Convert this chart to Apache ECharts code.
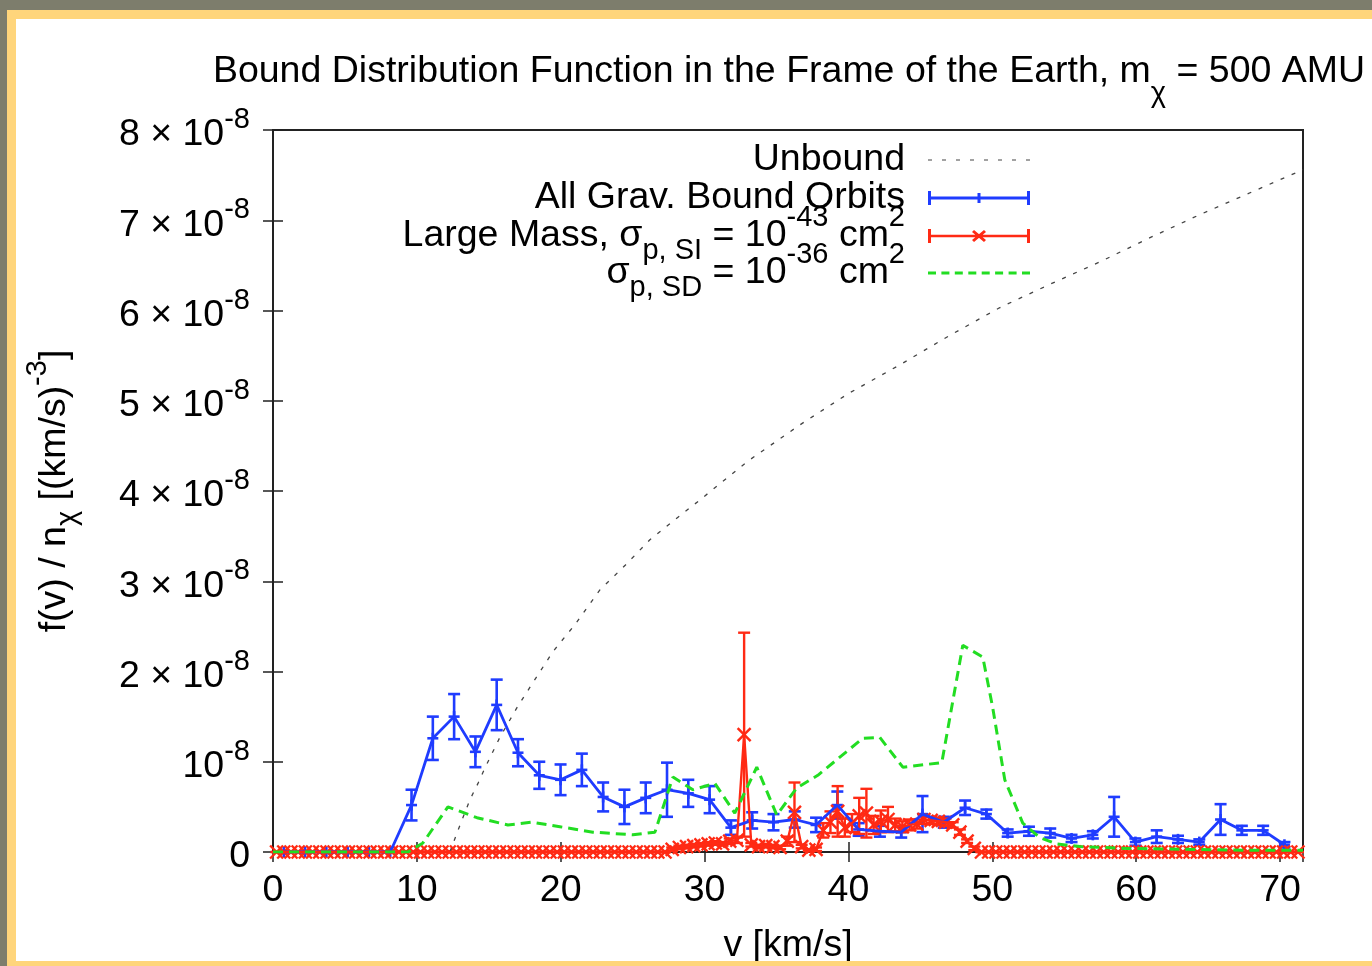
<!DOCTYPE html>
<html><head><meta charset="utf-8">
<script src="https://cdn.jsdelivr.net/npm/echarts@6/dist/echarts.min.js"></script>
<style>html,body{margin:0;padding:0;background:#fff}#c{width:1372px;height:966px}</style>
</head><body><div id="c"></div>
<script>
// All f(v)/n values are in units of 1e-8 (km/s)^-3
const FONT = 'Liberation Sans';

const unboundV = [12.3, 12.86, 13.69, 14.25, 14.73, 15.77, 16.96, 18.2, 19.46, 20.99, 22.7, 24.5, 26.2, 28, 29.67, 33, 36.6, 40, 43.6, 47, 50.5, 54, 57.5, 61, 64.4, 68, 71.6];
const unboundF = [0, 0.24, 0.58, 0.76, 0.93, 1.27, 1.6, 1.91, 2.22, 2.52, 2.9, 3.18, 3.46, 3.69, 3.9, 4.33, 4.73, 5.08, 5.4, 5.72, 6.03, 6.29, 6.54, 6.81, 7.06, 7.31, 7.56];

const boundV = [0.75, 2.23, 3.71, 5.19, 6.67, 8.15, 9.63, 11.11, 12.59, 14.07, 15.55, 17.03, 18.51, 19.99, 21.47, 22.95, 24.43, 25.91, 27.39, 28.87, 30.35, 31.83, 33.31, 34.79, 36.27, 37.75, 39.23, 40.71, 42.19, 43.67, 45.15, 46.63, 48.11, 49.59, 51.07, 52.55, 54.03, 55.51, 56.99, 58.47, 59.95, 61.43, 62.91, 64.39, 65.87, 67.35, 68.83, 70.31];
const boundF = [0, 0, 0, 0, 0, 0, 0.52, 1.26, 1.50, 1.11, 1.63, 1.10, 0.85, 0.80, 0.91, 0.61, 0.50, 0.60, 0.69, 0.65, 0.58, 0.27, 0.35, 0.33, 0.36, 0.30, 0.52, 0.25, 0.23, 0.22, 0.42, 0.33, 0.49, 0.42, 0.21, 0.23, 0.21, 0.15, 0.19, 0.39, 0.11, 0.17, 0.14, 0.11, 0.36, 0.24, 0.24, 0.08];
const boundErr = [0, 0, 0, 0, 0, 0, 0.17, 0.24, 0.25, 0.17, 0.28, 0.15, 0.15, 0.17, 0.18, 0.16, 0.19, 0.17, 0.30, 0.15, 0.15, 0.08, 0.09, 0.09, 0.09, 0.08, 0.15, 0.07, 0.06, 0.06, 0.20, 0.06, 0.08, 0.05, 0.04, 0.05, 0.05, 0.04, 0.04, 0.22, 0.04, 0.07, 0.04, 0.03, 0.17, 0.05, 0.05, 0.03];

const largeV = [0.25, 0.75, 1.25, 1.75, 2.25, 2.75, 3.25, 3.75, 4.25, 4.75,
  5.25, 5.75, 6.25, 6.75, 7.25, 7.75, 8.25, 8.75, 9.25, 9.75,
  10.25, 10.75, 11.25, 11.75, 12.25, 12.75, 13.25, 13.75, 14.25, 14.75,
  15.25, 15.75, 16.25, 16.75, 17.25, 17.75, 18.25, 18.75, 19.25, 19.75,
  20.25, 20.75, 21.25, 21.75, 22.25, 22.75, 23.25, 23.75, 24.25, 24.75,
  25.25, 25.75, 26.25, 26.75, 27.25, 27.75, 28.25, 28.75, 29.25, 29.75,
  30.25, 30.75, 31.25, 31.75, 32.25, 32.75, 33.25, 33.75, 34.25, 34.75,
  35.25, 35.75, 36.25, 36.75, 37.25, 37.75, 38.25, 38.75, 39.25, 39.75,
  40.25, 40.75, 41.25, 41.75, 42.25, 42.75, 43.25, 43.75, 44.25, 44.75,
  45.25, 45.75, 46.25, 46.75, 47.25, 47.75, 48.25, 48.75, 49.25, 49.75,
  50.25, 50.75, 51.25, 51.75, 52.25, 52.75, 53.25, 53.75, 54.25, 54.75,
  55.25, 55.75, 56.25, 56.75, 57.25, 57.75, 58.25, 58.75, 59.25, 59.75,
  60.25, 60.75, 61.25, 61.75, 62.25, 62.75, 63.25, 63.75, 64.25, 64.75,
  65.25, 65.75, 66.25, 66.75, 67.25, 67.75, 68.25, 68.75, 69.25, 69.75,
  70.25, 70.75, 71.25];
const largeF = [0, 0, 0, 0, 0, 0, 0, 0, 0, 0,
  0, 0, 0, 0, 0, 0, 0, 0, 0, 0,
  0, 0, 0, 0, 0, 0, 0, 0, 0, 0,
  0, 0, 0, 0, 0, 0, 0, 0, 0, 0,
  0, 0, 0, 0, 0, 0, 0, 0, 0, 0,
  0, 0, 0, 0, 0, 0.03, 0.05, 0.06, 0.07, 0.08,
  0.09, 0.10, 0.09, 0.12, 0.13, 1.30, 0.08, 0.06, 0.07, 0.06,
  0.05, 0.12, 0.44, 0.06, 0.02, 0.03, 0.24, 0.33, 0.45, 0.27,
  0.32, 0.40, 0.43, 0.30, 0.34, 0.36, 0.30, 0.28, 0.30, 0.31,
  0.36, 0.35, 0.34, 0.33, 0.30, 0.22, 0.12, 0.04, 0, 0,
  0, 0, 0, 0, 0, 0, 0, 0, 0, 0,
  0, 0, 0, 0, 0, 0, 0, 0, 0, 0,
  0, 0, 0, 0, 0, 0, 0, 0, 0, 0,
  0, 0, 0, 0, 0, 0, 0, 0, 0, 0,
  0, 0, 0];
const largeErr = [0, 0, 0, 0, 0, 0, 0, 0, 0, 0,
  0, 0, 0, 0, 0, 0, 0, 0, 0, 0,
  0, 0, 0, 0, 0, 0, 0, 0, 0, 0,
  0, 0, 0, 0, 0, 0, 0, 0, 0, 0,
  0, 0, 0, 0, 0, 0, 0, 0, 0, 0,
  0, 0, 0, 0, 0, 0.02, 0.02, 0.02, 0.02, 0.02,
  0.02, 0.02, 0.02, 0.03, 0.03, 1.13, 0.02, 0.02, 0.02, 0.02,
  0.02, 0.05, 0.33, 0.02, 0.01, 0.02, 0.08, 0.12, 0.28, 0.10,
  0.10, 0.20, 0.27, 0.10, 0.12, 0.14, 0.07, 0.06, 0.06, 0.05,
  0.05, 0.04, 0.04, 0.04, 0.03, 0.03, 0.02, 0.02, 0, 0,
  0, 0, 0, 0, 0, 0, 0, 0, 0, 0,
  0, 0, 0, 0, 0, 0, 0, 0, 0, 0,
  0, 0, 0, 0, 0, 0, 0, 0, 0, 0,
  0, 0, 0, 0, 0, 0, 0, 0, 0, 0,
  0, 0, 0];

const sdV = [0, 9.38, 10.42, 12.16, 14.18, 16.33, 18.0, 19.94, 22.24, 25.02, 26.55, 27.8, 29.19, 30.72, 32.1, 33.63, 35.02, 36.41, 37.87, 41.0, 42.18, 43.78, 46.49, 47.95, 49.34, 50.03, 50.87, 52.12, 53.3, 54.48, 56.08, 59.35, 63.03, 67.69, 71.6];
const sdF = [0, 0, 0.10, 0.50, 0.38, 0.30, 0.33, 0.28, 0.22, 0.19, 0.22, 0.83, 0.69, 0.76, 0.43, 0.94, 0.41, 0.71, 0.85, 1.26, 1.27, 0.94, 0.99, 2.29, 2.16, 1.6, 0.80, 0.32, 0.16, 0.09, 0.06, 0.04, 0.03, 0.02, 0.02];

const xMin = 0, xMax = 71.6, xStep = 10;
const yMin = 0, yMax = 8, yStep = 1;   // in units of 1e-8

const C_BLUE = '#1f3cff', C_RED = '#ff2a14', C_GREEN = '#22dd22', C_UNB = '#444444';
const FS = 37.5, FS_S = 29;

const zip2 = (a, b) => a.map((v, i) => [v, b[i]]);
const zip3 = (a, b, c) => a.map((v, i) => [v, b[i], c[i]]);

function errRender(color, marker, lw, m) {
  return function (params, api) {
    const x = api.value(0), y = api.value(1), e = api.value(2);
    const p = api.coord([x, y]);
    const hi = api.coord([x, y + e]);
    const lo = api.coord([x, Math.max(y - e, -0.05)]);
    const cap = 6;
    const st = { stroke: color, lineWidth: lw };
    const ch = [
      { type: 'line', shape: { x1: p[0], y1: hi[1], x2: p[0], y2: lo[1] }, style: st },
      { type: 'line', shape: { x1: p[0] - cap, y1: hi[1], x2: p[0] + cap, y2: hi[1] }, style: st },
      { type: 'line', shape: { x1: p[0] - cap, y1: lo[1], x2: p[0] + cap, y2: lo[1] }, style: st }
    ];
    if (marker === 'plus') {
      ch.push({ type: 'line', shape: { x1: p[0] - m, y1: p[1], x2: p[0] + m, y2: p[1] }, style: st });
      ch.push({ type: 'line', shape: { x1: p[0], y1: p[1] - m, x2: p[0], y2: p[1] + m }, style: st });
    } else {
      ch.push({ type: 'line', shape: { x1: p[0] - m, y1: p[1] - m, x2: p[0] + m, y2: p[1] + m }, style: st });
      ch.push({ type: 'line', shape: { x1: p[0] - m, y1: p[1] + m, x2: p[0] + m, y2: p[1] - m }, style: st });
    }
    return { type: 'group', children: ch };
  };
}

const N_UNB = 'Unbound', N_ALL = 'All Grav. Bound Orbits', N_LM = 'Large Mass', N_SD = 'SD';
const legendText = {};
legendText[N_UNB] = '{sb|\u200b}{t|Unbound}{sp|\u200b}';
legendText[N_ALL] = '{sb|\u200b}{t|All Grav. Bound Orbits}{sp|\u200b}';
legendText[N_LM] = '{t|Large Mass, σ}{sb|p, SI}{t| = 10}{sp|-43}{t| cm}{sp|2}';
legendText[N_SD] = '{t|σ}{sb|p, SD}{t| = 10}{sp|-36}{t| cm}{sp|2}';

const iconUnb = 'path://M0,0L0,0ZM102,14L102,14ZM0,6.4h4v1.2h-4zM14,6.4h4v1.2h-4zM28,6.4h4v1.2h-4zM42,6.4h4v1.2h-4zM56,6.4h4v1.2h-4zM70,6.4h4v1.2h-4zM84,6.4h4v1.2h-4zM98,6.4h4v1.2h-4z';
const iconAll = 'path://M0,0h3v14h-3zM0,5.5h102v3h-102zM99,0h3v14h-3zM49.5,2h3v10h-3z';
const iconLM = 'path://M0,0h3v14h-3zM0,5.7h102v2.6h-102zM99,0h3v14h-3zM44,3L46,1L58,11L56,13ZM56,1L58,3L46,13L44,11Z';
const iconSD = 'path://M0,0L0,0ZM102,14L102,14ZM0,5.6h8v2.8h-8zM13.4,5.6h8v2.8h-8zM26.8,5.6h8v2.8h-8zM40.3,5.6h8v2.8h-8zM53.7,5.6h8v2.8h-8zM67.1,5.6h8v2.8h-8zM80.6,5.6h8v2.8h-8zM94,5.6h8v2.8h-8z';

const base = { fontFamily: FONT, fontWeight: 'normal', color: '#000' };

const legendTextStyle = Object.assign({}, base, {
  fontSize: FS, padding: [0, 18, 0, 0],
  rich: {
    t: Object.assign({}, base, { fontSize: FS }),
    sb: Object.assign({}, base, { fontSize: FS_S, padding: [33, 0, 4, 0] }),
    sp: Object.assign({}, base, { fontSize: FS_S, padding: [0, 0, 37, 0] })
  }
});
function oneLegend(item, centerY) {
  return {
    orient: 'vertical', align: 'right', right: 342, top: centerY - 33, padding: 0,
    itemWidth: 102, itemHeight: 14, itemGap: 0,
    data: [item],
    formatter: function (n) { return legendText[n]; },
    textStyle: legendTextStyle
  };
}

const chart = echarts.init(document.getElementById('c'), null, { renderer: 'canvas' });
chart.setOption({
  animation: false,
  backgroundColor: '#ffffff',
  title: {
    text: '{t|Bound Distribution Function in the Frame of the Earth, m}{s|χ}{t| = 500 AMU}',
    left: 789, top: 50, textAlign: 'center', padding: 0,
    textStyle: Object.assign({}, base, {
      fontSize: FS,
      rich: {
        t: Object.assign({}, base, { fontSize: FS, lineHeight: 44 }),
        s: Object.assign({}, base, { fontSize: FS_S, lineHeight: 44, padding: [44, 0, 0, 0] })
      }
    })
  },
  legend: [
    oneLegend({ name: N_UNB, icon: iconUnb, itemStyle: { color: C_UNB, borderWidth: 0 } }, 160),
    oneLegend({ name: N_ALL, icon: iconAll, itemStyle: { color: C_BLUE, borderWidth: 0 } }, 198),
    oneLegend({ name: N_LM, icon: iconLM, itemStyle: { color: C_RED, borderWidth: 0 } }, 236),
    oneLegend({ name: N_SD, icon: iconSD, itemStyle: { color: C_GREEN, borderWidth: 0 } }, 273)
  ],
  grid: { left: 273, right: 69, top: 130, bottom: 114, outerBoundsMode: 'none', containLabel: false,
    show: true, borderColor: '#222', borderWidth: 2 },
  xAxis: [{
    type: 'value', min: xMin, max: xMax, interval: xStep, position: 'bottom',
    name: 'v [km/s]', nameLocation: 'middle', nameGap: 75,
    nameTextStyle: Object.assign({}, base, { fontSize: FS }),
    axisLine: { show: false },
    axisTick: { inside: true, length: 10, lineStyle: { color: '#222', width: 1.5 } },
    axisLabel: Object.assign({}, base, { fontSize: FS, margin: 20, showMaxLabel: false }),
    splitLine: { show: false }
  }, {
    type: 'value', min: xMin, max: xMax, interval: xStep, position: 'top',
    axisLine: { show: false },
    axisTick: { inside: true, length: 10, lineStyle: { color: '#222', width: 1.5 } },
    axisLabel: { show: false }, splitLine: { show: false }
  }],
  yAxis: [{
    type: 'value', min: yMin, max: yMax, interval: yStep, position: 'left',
    name: '{m|f(v) / n}{sb|χ}{m| [(km/s)}{sp|-3}{m|]}',
    nameLocation: 'middle', nameRotate: 90, nameGap: 196,
    nameTextStyle: Object.assign({}, base, {
      fontSize: FS,
      rich: {
        m: Object.assign({}, base, { fontSize: FS, lineHeight: 44 }),
        sb: Object.assign({}, base, { fontSize: FS_S, lineHeight: 44, padding: [26, 0, 0, 0] }),
        sp: Object.assign({}, base, { fontSize: FS_S, lineHeight: 44, padding: [0, 0, 34, 0] })
      }
    }),
    axisLine: { show: false },
    axisTick: { inside: true, length: 10, lineStyle: { color: '#222', width: 1.5 } },
    axisLabel: Object.assign({}, base, {
      fontSize: FS, margin: 23,
      formatter: function (v) {
        const k = Math.round(v);
        if (k === 0) return '{m|0}';
        if (k === 1) return '{m|10}{s|-8}';
        return '{m|' + k + ' × 10}{s|-8}';
      },
      rich: {
        m: Object.assign({}, base, { fontSize: FS, lineHeight: 44, padding: [10, 0, 0, 0] }),
        s: Object.assign({}, base, { fontSize: FS_S, lineHeight: 44, padding: [0, 0, 20, 0] })
      }
    }),
    splitLine: { show: false }
  }, {
    type: 'value', min: yMin, max: yMax, interval: yStep, position: 'right',
    axisLine: { show: false },
    axisTick: { inside: true, length: 10, lineStyle: { color: '#222', width: 1.5 } },
    axisLabel: { show: false }, splitLine: { show: false }
  }],
  series: [
    { name: N_UNB, type: 'line', data: zip2(unboundV, unboundF), symbol: 'none',
      lineStyle: { color: C_UNB, width: 1.3, type: [4, 8] }, itemStyle: { color: C_UNB } },
    { name: N_ALL, type: 'line', data: zip2(boundV, boundF), symbol: 'none',
      lineStyle: { color: C_BLUE, width: 2.8 }, itemStyle: { color: C_BLUE } },
    { name: N_ALL, type: 'custom', data: zip3(boundV, boundF, boundErr), encode: { x: 0, y: 1 },
      renderItem: errRender(C_BLUE, 'plus', 2.6, 5.5), itemStyle: { color: C_BLUE } },
    { name: N_LM, type: 'line', data: zip2(largeV, largeF), symbol: 'none',
      lineStyle: { color: C_RED, width: 2.4 }, itemStyle: { color: C_RED } },
    { name: N_LM, type: 'custom', data: zip3(largeV, largeF, largeErr), encode: { x: 0, y: 1 },
      renderItem: errRender(C_RED, 'cross', 2.4, 6.5), itemStyle: { color: C_RED } },
    { name: N_SD, type: 'line', data: zip2(sdV, sdF), symbol: 'none',
      lineStyle: { color: C_GREEN, width: 3, type: [10, 6] }, itemStyle: { color: C_GREEN } }
  ],
  graphic: [
    { type: 'rect', z: 100, silent: true, shape: { x: 0, y: 0, width: 1372, height: 10 }, style: { fill: '#7d7d6c' } },
    { type: 'rect', z: 100, silent: true, shape: { x: 0, y: 0, width: 7, height: 966 }, style: { fill: '#7d7d6c' } },
    { type: 'rect', z: 100, silent: true, shape: { x: 7, y: 10, width: 1365, height: 9 }, style: { fill: '#ffd57b' } },
    { type: 'rect', z: 100, silent: true, shape: { x: 7, y: 10, width: 9, height: 956 }, style: { fill: '#ffd57b' } },
    { type: 'rect', z: 100, silent: true, shape: { x: 7, y: 961, width: 1365, height: 5 }, style: { fill: '#ffd57b' } }
  ]
});
</script>
</body></html>
